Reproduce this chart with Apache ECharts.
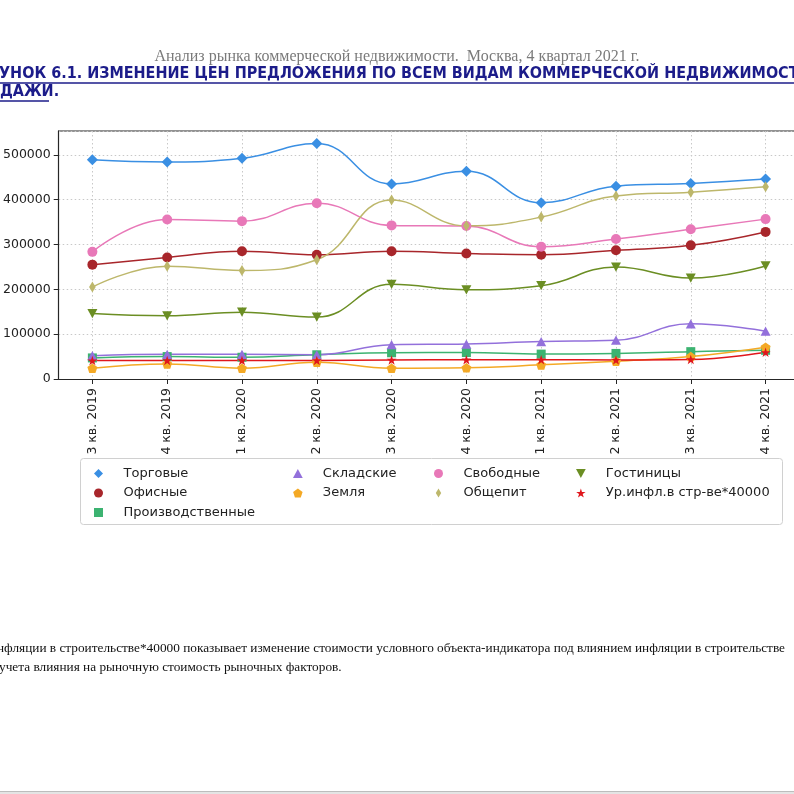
<!DOCTYPE html>
<html>
<head>
<meta charset="utf-8">
<script src="https://cdn.jsdelivr.net/npm/echarts@6/dist/echarts.min.js"></script>
<style>
html,body{margin:0;padding:0;background:#fff;}
#c{width:794px;height:794px;}
</style>
</head>
<body>
<div id="c"></div>
<script>
// ---- data ----
const categories = ['3 кв. 2019','4 кв. 2019','1 кв. 2020','2 кв. 2020','3 кв. 2020','4 кв. 2020','1 кв. 2021','2 кв. 2021','3 кв. 2021','4 кв. 2021'];
const torgovye = [489000, 484000, 492000, 525000, 435000, 463000, 393000, 430000, 436000, 446000];
const ofisnye = [255000, 271000, 285000, 277000, 285000, 280000, 277000, 287000, 298000, 328000];
const proizvodstvennye = [47000, 50000, 48500, 54000, 58500, 59000, 55500, 57000, 61000, 64000];
const skladskie = [52000, 55000, 55000, 54000, 76500, 78000, 83500, 86500, 123000, 106500];
const zemlya = [24000, 33500, 24000, 37500, 24000, 25000, 31500, 39500, 50000, 71000];
const svobodnye = [283500, 355500, 352000, 392000, 342500, 341000, 295000, 312000, 334000, 356500];
const obshchepit = [205000, 251500, 242000, 266000, 399000, 341500, 361000, 408000, 416500, 428500];
const gostinicy = [146000, 141000, 149000, 138000, 211000, 199000, 208000, 249500, 225000, 252000];
const inflyaciya = [41000, 41500, 41500, 41500, 42500, 43000, 43000, 42500, 43500, 59500];
const yTicks = [0, 100000, 200000, 300000, 400000, 500000];

const S = {
  diamond: 'path://M0,-1L1,0L0,1L-1,0Z',
  circle: 'path://M1,0A1,1,0,1,1,-1,0A1,1,0,1,1,1,0Z',
  square: 'path://M-1,-1L1,-1L1,1L-1,1Z',
  triUp: 'path://M0,-1L1,0.85L-1,0.85Z',
  pentagon: 'path://M0,-1L0.951,-0.309L0.588,0.809L-0.588,0.809L-0.951,-0.309Z',
  thinDiamond: 'path://M0,-1L0.6,0L0,1L-0.6,0Z',
  triDown: 'path://M-1,-0.85L1,-0.85L0,1Z',
  star: 'path://M0,-1L0.2245,-0.309L0.951,-0.309L0.363,0.118L0.588,0.809L0,0.382L-0.588,0.809L-0.363,0.118L-0.951,-0.309L-0.2245,-0.309Z'
};

const seriesDefs = [
  {name:'Торговые', data:torgovye, color:'#3a8fe3', sym:S.diamond, size:11},
  {name:'Офисные', data:ofisnye, color:'#a8262b', sym:S.circle, size:10},
  {name:'Производственные', data:proizvodstvennye, color:'#3cb371', sym:S.square, size:9},
  {name:'Складские', data:skladskie, color:'#9370db', sym:S.triUp, size:10},
  {name:'Земля', data:zemlya, color:'#f4a925', sym:S.pentagon, size:10},
  {name:'Свободные', data:svobodnye, color:'#e878b8', sym:S.circle, size:10},
  {name:'Общепит', data:obshchepit, color:'#bdb76b', sym:S.thinDiamond, size:11},
  {name:'Гостиницы', data:gostinicy, color:'#6b8e23', sym:S.triDown, size:10},
  {name:'Ур.инфл.в стр-ве*40000', data:inflyaciya, color:'#e0161c', sym:S.star, size:10}
];

const chart = echarts.init(document.getElementById('c'), null, {renderer:'canvas'});

const series = seriesDefs.map(d => ({
  name: d.name,
  type: 'line',
  data: d.data.map((v, i) => [i, v]),
  smooth: 0.45,
  symbol: d.sym,
  symbolSize: d.size,
  symbolKeepAspect: true,
  showAllSymbol: true,
  lineStyle: {color: d.color, width: 1.5},
  itemStyle: {color: d.color, borderWidth: 0},
  emphasis: {disabled: true},
  animation: false
}));

const legendCols = [
  {left: 89, names: [0, 1, 2]},
  {left: 288, names: [3, 4]},
  {left: 429, names: [5, 6]},
  {left: 571, names: [7, 8]}
];
const legends = legendCols.map(c => ({
  orient: 'vertical',
  left: c.left,
  top: 462,
  itemWidth: 40,
  itemHeight: 9,
  itemGap: 6.5,
  symbolKeepAspect: true,
  itemStyle: {borderWidth: 0},
  textStyle: {fontFamily: 'DejaVu Sans', fontSize: 13, color: '#222'},
  selectedMode: false,
  data: c.names.map(k => ({name: seriesDefs[k].name, icon: seriesDefs[k].sym}))
}));

const serif = '"Liberation Serif", "Times New Roman", serif';
const narrowBold = 'bold 16px "Liberation Sans Narrow", "DejaVu Sans Condensed", sans-serif';

const option = {
  backgroundColor: '#fff',
  animation: false,
  grid: {left: 58, top: 131, right: 0, bottom: 415, show: false, containLabel: false},
  xAxis: {
    type: 'value',
    min: -0.45,
    max: 9.38,
    axisLine: {show: true, onZero: false, lineStyle: {color: '#262626', width: 1.2}},
    axisTick: {show: true, length: 5, inside: false, lineStyle: {color: '#262626', width: 1}, customValues: categories.map((c, i) => i)},
    axisLabel: {
      customValues: categories.map((c, i) => i),
      rotate: 90,
      margin: 9,
      fontFamily: 'DejaVu Sans',
      fontSize: 12.5,
      color: '#222',
      formatter: v => categories[Math.round(v)] || ''
    },
    splitLine: {show: true, lineStyle: {color: '#c8c8c8', type: [1.5, 2.5], width: 1}}
  },
  yAxis: {
    type: 'value',
    min: 0,
    max: 553000,
    interval: 100000,
    axisLine: {show: true, onZero: false, lineStyle: {color: '#262626', width: 1.2}},
    axisTick: {show: true, length: 5, inside: false, lineStyle: {color: '#262626', width: 1}},
    axisLabel: {
      margin: 8,
      fontFamily: 'DejaVu Sans',
      fontSize: 12.5,
      color: '#222',
      showMaxLabel: false,
      formatter: v => (yTicks.indexOf(v) >= 0 ? String(v) : '')
    },
    splitLine: {show: true, lineStyle: {color: '#c8c8c8', type: [1.5, 2.5], width: 1}}
  },
  legend: legends,
  graphic: [
    {type: 'line', shape: {x1: 58, y1: 131, x2: 794, y2: 131}, style: {stroke: '#262626', lineWidth: 1.2}},
    {type: 'rect', z: -1, shape: {x: 80.5, y: 458.5, width: 702, height: 66, r: 3}, style: {fill: '#fff', stroke: '#d0d0d0', lineWidth: 1}},
    {type: 'text', left: 'center', top: 49, style: {text: 'Анализ рынка коммерческой недвижимости.  Москва, 4 квартал 2021 г.', font: '16px ' + serif, fill: '#7a7a7a'}},
    {type: 'text', x: -1, y: 66, style: {text: 'УНОК 6.1. ИЗМЕНЕНИЕ ЦЕН ПРЕДЛОЖЕНИЯ ПО ВСЕМ ВИДАМ КОММЕРЧЕСКОЙ НЕДВИЖИМОСТИ', font: narrowBold, fill: '#1c1c8a'}},
    {type: 'line', shape: {x1: 0, y1: 83, x2: 794, y2: 83}, style: {stroke: '#1c1c8a', lineWidth: 1.3}},
    {type: 'text', x: 0, y: 84, style: {text: 'ДАЖИ.', font: narrowBold, fill: '#1c1c8a'}},
    {type: 'line', shape: {x1: 0, y1: 101, x2: 49, y2: 101}, style: {stroke: '#1c1c8a', lineWidth: 1.3}},
    {type: 'text', x: -3, y: 642, style: {text: 'нфляции в строительстве*40000 показывает изменение стоимости условного объекта-индикатора под влиянием инфляции в строительстве', font: '13.3px ' + serif, fill: '#111'}},
    {type: 'text', x: -1, y: 661, style: {text: 'учета влияния на рыночную стоимость рыночных факторов.', font: '13.3px ' + serif, fill: '#111'}},
    {type: 'rect', shape: {x: 0, y: 791, width: 794, height: 3}, style: {fill: '#e4e4e4'}},
    {type: 'line', shape: {x1: 0, y1: 791.5, x2: 794, y2: 791.5}, style: {stroke: '#bdbdbd', lineWidth: 1}}
  ],
  series: series
};
chart.setOption(option);
</script>
</body>
</html>
